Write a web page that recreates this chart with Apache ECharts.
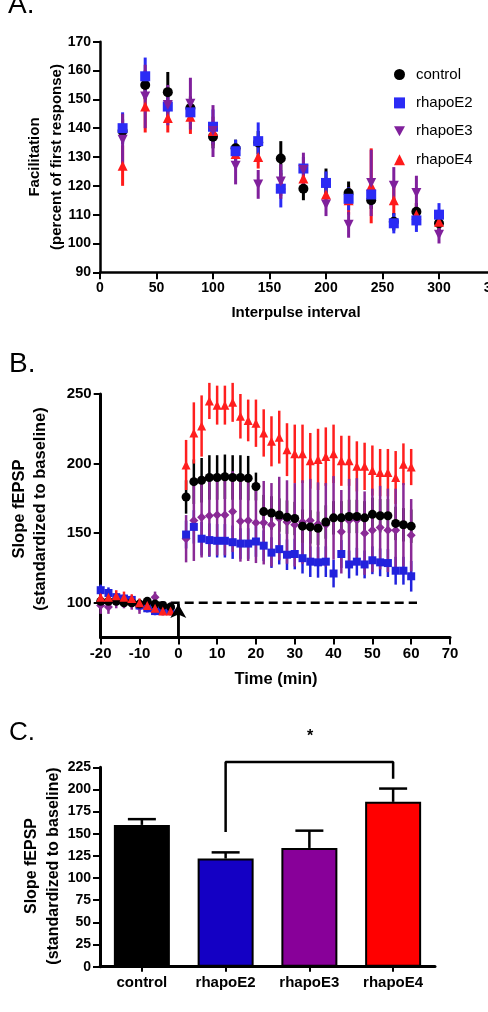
<!DOCTYPE html>
<html>
<head>
<meta charset="utf-8">
<script src="https://cdn.jsdelivr.net/npm/echarts@6/dist/echarts.min.js"></script>
<style>
  html, body { margin: 0; padding: 0; background: #fff; }
  #chart { width: 488px; height: 1012px; }
</style>
</head>
<body>
<div id="chart"></div>
<script>
// ---- panel A: paired-pulse facilitation ----
const aInterval = [20, 40, 60, 80, 100, 120, 140, 160, 180, 200, 220, 240, 260, 280, 300];
const aControl = [139, 155, 152.5, 147, 137, 133, 135, 129.5, 119, 121, 117.5, 115, 107.5, 111, 107];
const aControlErr = [4, 5, 7, 4, 4, 3, 4, 6, 4, 5, 4, 3, 3, 3, 3];
const aE2 = [140, 158, 147.5, 145.5, 140.5, 132, 135.5, 119, 126, 121, 115.5, 117, 107, 108, 110];
const aE2Err = [5.5, 6.5, 4, 4, 6, 4, 6.5, 6.5, 4, 4, 4, 4, 3.5, 4, 4];
const aE3 = [136, 151, 148, 148.5, 139, 127, 120.5, 121.5, 125.5, 113.5, 106.5, 121, 120, 117.5, 103];
const aE3Err = [9, 11, 7, 9, 9, 6.5, 5, 6, 6, 4, 4.5, 11.5, 6.5, 6, 3];
const aE4 = [127, 147.5, 143.5, 144, 139, 131, 130, 120.5, 122.5, 117, 115, 120, 115, 110, 107.5];
const aE4Err = [7, 9, 5, 6, 5, 4, 4, 4, 4, 4, 5, 13, 5, 4, 4];

// ---- panel B: LTP time course ----
const bTime = [-20, -18, -16, -14, -12, -10, -8, -6, -4, -2, 2, 4, 6, 8, 10, 12, 14, 16, 18, 20,
  22, 24, 26, 28, 30, 32, 34, 36, 38, 40, 42, 44, 46, 48, 50, 52, 54, 56, 58, 60];
const bControl = [101, 101, 101, 100, 100, 99, 101, 99, 98, 97, 176, 187, 188, 190, 190, 190.5, 190, 190, 189.5, 183.5,
  165.5, 164.5, 163, 161.5, 160.5, 155, 154.5, 153.5, 158, 161, 161, 162, 162, 161, 163.5, 162.5, 162.5, 157, 156, 155];
const bControlErr = [3, 3, 3, 3, 3, 3, 3, 3, 3, 3, 12, 16, 16, 16, 16, 16, 16, 16, 16, 10,
  12, 12, 12, 12, 12, 12, 12, 12, 12, 12, 12, 12, 12, 12, 12, 12, 12, 12, 12, 12];
const bE2 = [109, 107, 104, 103, 102, 98, 96, 94, 94, 94, 149, 154.5, 146, 145, 144.5, 144.5, 143.5, 142.5, 142.5, 144,
  141, 136, 138.5, 134.5, 135, 132, 129.5, 129, 129.5, 121, 135, 127.5, 129.5, 127.5, 130.5, 129, 128.5, 123, 123, 119];
const bE2Err = [4, 4, 3, 3, 3, 3, 3, 3, 3, 3, 10, 12, 12, 12, 12, 12, 12, 11, 11, 11,
  11, 11, 11, 11, 11, 11, 11, 11, 11, 10, 10, 10, 10, 10, 10, 10, 10, 10, 10, 11];
const bE3 = [98, 97, 101, 100, 99, 97, 98, 104, 97, 96, 146, 159, 161.5, 162.5, 163, 163, 165.5, 158.5, 159, 157.5,
  157.5, 156, 160.5, 158, 156, 158, 159, 156.5, 156, 161, 151, 159, 159.5, 150, 152, 154, 152, 152, 156, 148.5];
const bE3Err = [6, 5, 5, 4, 4, 5, 4, 4, 4, 4, 17, 29, 29, 29, 29, 29, 29, 29, 29, 29,
  30, 30, 30, 30, 30, 30, 30, 30, 30, 30, 30, 30, 30, 30, 30, 30, 30, 30, 30, 26];
const bE4 = [104, 104, 105, 104, 103, 100, 98, 96, 94, 94, 199, 222, 227, 245, 242, 242, 244, 234, 231, 229,
  222, 216, 219, 210, 207, 207, 202, 203, 205, 207, 202, 202, 198, 198, 195, 193.5, 193.5, 190, 199.5, 197.5];
const bE4Err = [4, 4, 4, 4, 3, 3, 3, 3, 3, 3, 18, 22, 22, 13, 14, 14, 14, 16, 15, 17,
  17, 18, 19, 19, 21, 21, 20, 22, 21, 21, 18, 18, 18, 17, 18, 17, 17, 19, 15, 13];
const bBaseline = [[-20, 100], [61.5, 100]];
const bArrow = [[0, 75], [0, 99]];
const bYTicks = [100, 150, 200, 250];

// ---- panel C: mean LTP ----
const cGroups = ['control', 'rhapoE2', 'rhapoE3', 'rhapoE4'];
const cMean = [160, 122, 134, 186];
const cErr = [6.5, 7, 19.5, 15];
const cBracket = [['rhapoE2', 152], ['rhapoE2', 231], ['rhapoE4', 231], ['rhapoE4', 212]];

const FONT = 'Liberation Sans, Arial, sans-serif';
const COL = { control: '#000000', e2: '#2b2bf5', e3: '#80209c', e4: '#ff1a1a' };
const BARCOL = ['#000000', '#1400c4', '#880099', '#ff0000'];
const DOWN = 'path://M0,0L10,0L5,9Z';

function errBars(ax, xs, vals, errs, color, width) {
  return {
    type: 'custom', xAxisIndex: ax, yAxisIndex: ax, z: 2, silent: true,
    data: xs.map((x, i) => [x, vals[i] - errs[i], vals[i] + errs[i]]),
    encode: { x: 0, y: [1, 2] },
    renderItem: (params, api) => {
      const lo = api.coord([api.value(0), api.value(1)]);
      const hi = api.coord([api.value(0), api.value(2)]);
      return {
        type: 'line',
        shape: { x1: lo[0], y1: lo[1], x2: hi[0], y2: hi[1] },
        style: { stroke: color, lineWidth: width }
      };
    }
  };
}

function marks(name, ax, xs, vals, symbol, size, color, rotate) {
  return {
    name, type: 'scatter', xAxisIndex: ax, yAxisIndex: ax, z: 3, silent: true,
    symbol, symbolSize: size, symbolRotate: rotate || 0,
    itemStyle: { color, opacity: 1 },
    data: xs.map((x, i) => [x, vals[i]])
  };
}

function axis(idx, extra, fontSize, lw) {
  return Object.assign({
    gridIndex: idx,
    axisLine: { show: true, onZero: false, lineStyle: { color: '#000', width: lw } },
    axisTick: { show: true, length: 7, lineStyle: { color: '#000', width: 2 } },
    axisLabel: { color: '#000', fontWeight: 'bold', fontSize, fontFamily: FONT, margin: 9 },
    splitLine: { show: false }
  }, extra);
}

function vtext(txt, x, y, size) {
  return {
    type: 'text', x, y, rotation: Math.PI / 2,
    style: { text: txt, fontFamily: FONT, fontWeight: 'bold', fontSize: size, fill: '#000', align: 'center', verticalAlign: 'middle' }
  };
}
function htext(txt, x, y, size, weight, align) {
  return {
    type: 'text', x, y,
    style: { text: txt, fontFamily: FONT, fontWeight: weight, fontSize: size, fill: '#000', align: align || 'center', verticalAlign: 'middle' }
  };
}

const chart = echarts.init(document.getElementById('chart'), null, { renderer: 'canvas' });

const yB = axis(1, { type: 'value', min: 75, max: 250 }, 15, 3);
yB.axisLabel.customValues = bYTicks;
yB.axisTick.customValues = bYTicks;

const option = {
  backgroundColor: '#fff',
  animation: false,
  grid: [
    { left: 100, top: 41.7, width: 395.5, height: 230.6, outerBoundsMode: 'none', containLabel: false },
    { left: 100.7, top: 394, width: 349.3, height: 243.5, outerBoundsMode: 'none', containLabel: false },
    { left: 100, top: 767.3, width: 335, height: 199.4, outerBoundsMode: 'none', containLabel: false }
  ],
  xAxis: [
    axis(0, { type: 'value', min: 0, max: 350, interval: 50 }, 14, 2.5),
    axis(1, { type: 'value', min: -20, max: 70, interval: 10 }, 15, 3),
    axis(2, { type: 'category', data: cGroups, axisTick: { show: true, alignWithLabel: true, length: 5, lineStyle: { color: '#000', width: 2 } } }, 15, 3)
  ],
  yAxis: [
    axis(0, { type: 'value', min: 90, max: 170, interval: 10 }, 14, 2.5),
    yB,
    axis(2, { type: 'value', min: 0, max: 225, interval: 25 }, 14, 3)
  ],
  legend: {
    data: [
      { name: 'control', icon: 'circle' },
      { name: 'rhapoE2', icon: 'rect' },
      { name: 'rhapoE3', icon: DOWN },
      { name: 'rhapoE4', icon: 'triangle' }
    ],
    orient: 'vertical', left: 389, top: 62,
    itemWidth: 11, itemHeight: 11, itemGap: 13.4,
    selectedMode: false,
    textStyle: { fontFamily: FONT, fontSize: 15, color: '#000', padding: [0, 0, 0, 6] }
  },
  series: [
    // panel A error bars
    errBars(0, aInterval, aE4, aE4Err, COL.e4, 3),
    errBars(0, aInterval, aControl, aControlErr, COL.control, 3),
    errBars(0, aInterval, aE2, aE2Err, COL.e2, 3),
    errBars(0, aInterval, aE3, aE3Err, COL.e3, 3),
    // panel A markers
    marks('control', 0, aInterval, aControl, 'circle', 10, COL.control),
    marks('rhapoE4', 0, aInterval, aE4, 'triangle', 10, COL.e4),
    marks('rhapoE2', 0, aInterval, aE2, 'rect', 10, COL.e2),
    marks('rhapoE3', 0, aInterval, aE3, 'triangle', 10, COL.e3, 180),

    // panel B baseline and arrow
    {
      type: 'line', xAxisIndex: 1, yAxisIndex: 1, z: 1, silent: true, symbol: 'none',
      data: bBaseline,
      lineStyle: { color: '#000', width: 2.5, type: [9, 5] }
    },
    {
      type: 'line', xAxisIndex: 1, yAxisIndex: 1, z: 4, silent: true, symbol: 'none',
      data: bArrow,
      lineStyle: { color: '#000', width: 2.5 },
      markLine: {
        silent: true, symbol: ['none', 'arrow'], symbolSize: [12, 14],
        label: { show: false },
        lineStyle: { color: '#000', width: 2.5, type: 'solid' },
        data: [[{ coord: bArrow[0] }, { coord: bArrow[1] }]]
      }
    },
    // panel B error bars
    errBars(1, bTime, bE2, bE2Err, '#2222dd', 2.5),
    errBars(1, bTime, bControl, bControlErr, '#000000', 2.5),
    errBars(1, bTime, bE4, bE4Err, '#ff1f1f', 2.5),
    errBars(1, bTime, bE3, bE3Err, '#8a2a96', 2.5),
    // panel B markers
    marks('B rhapoE3', 1, bTime, bE3, 'diamond', 9, '#8a2a96'),
    marks('B rhapoE2', 1, bTime, bE2, 'rect', 8, '#2222dd'),
    marks('B control', 1, bTime, bControl, 'circle', 9, '#000000'),
    marks('B rhapoE4', 1, bTime, bE4, 'triangle', 9, '#ff1f1f'),

    // panel C bars
    {
      type: 'bar', xAxisIndex: 2, yAxisIndex: 2, silent: true, barWidth: 56, z: 2,
      data: cMean.map((v, i) => ({ value: v, itemStyle: { color: BARCOL[i] } })),
      itemStyle: { borderColor: '#000', borderWidth: 2 }
    },
    {
      type: 'custom', xAxisIndex: 2, yAxisIndex: 2, z: 1, silent: true,
      data: cGroups.map((g, i) => [g, cMean[i], cMean[i] + cErr[i]]),
      encode: { x: 0, y: [1, 2] },
      renderItem: (params, api) => {
        const lo = api.coord([api.value(0), api.value(1)]);
        const hi = api.coord([api.value(0), api.value(2)]);
        return {
          type: 'group',
          children: [
            { type: 'line', shape: { x1: lo[0], y1: lo[1], x2: hi[0], y2: hi[1] }, style: { stroke: '#000', lineWidth: 2.5 } },
            { type: 'line', shape: { x1: hi[0] - 14, y1: hi[1], x2: hi[0] + 14, y2: hi[1] }, style: { stroke: '#000', lineWidth: 2.5 } }
          ]
        };
      }
    },
    {
      type: 'line', xAxisIndex: 2, yAxisIndex: 2, silent: true, symbol: 'none', clip: false, z: 3,
      data: cBracket,
      lineStyle: { color: '#000', width: 2.5 }
    }
  ],
  graphic: [
    htext('A.', 8, 5, 28, 'normal', 'left'),
    htext('B.', 9, 364, 28, 'normal', 'left'),
    htext('C.', 9, 733, 26, 'normal', 'left'),
    vtext('Facilitation', 35, 157, 15),
    vtext('(percent of first response)', 57, 157, 15),
    htext('Interpulse interval', 296, 313, 15, 'bold'),
    vtext('Slope fEPSP', 19, 509, 16.5),
    vtext('(standardized to baseline)', 40, 509, 16.5),
    htext('Time (min)', 276, 679, 16.5, 'bold'),
    vtext('Slope fEPSP', 32, 866, 16),
    vtext('(standardized to baseline)', 54, 866, 16),
    htext('*', 310, 737, 16, 'bold')
  ]
};

chart.setOption(option);
</script>
</body>
</html>
